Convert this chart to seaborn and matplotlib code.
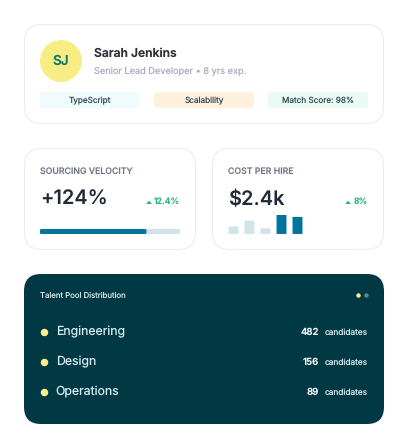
import matplotlib
matplotlib.use("Agg")
import matplotlib.pyplot as plt
from matplotlib.patches import FancyBboxPatch, Circle, Polygon
import seaborn as sns
import pandas as pd

sns.set_theme(style="white")
plt.rcParams['font.family'] = ['Inter', 'DejaVu Sans']
plt.rcParams['text.hinting'] = 'no_hinting'
plt.rcParams['text.hinting_factor'] = 1

W, H = 408, 448
PX = 0.72

# data
name = "Sarah Jenkins"
initials = "SJ"
role = "Senior Lead Developer • 8 yrs exp."
chips = ["TypeScript", "Scalability", "Match Score: 98%"]
velocity_label = "SOURCING VELOCITY"
velocity_value = "+124%"
velocity_delta = "12.4%"
progress_share = [76]
progress_total = [100]
cost_label = "COST PER HIRE"
cost_value = "$2.4k"
cost_delta = "8%"
cost_bars = [40, 70, 30, 100, 90]
cost_groups = ["a", "b", "c", "d", "e"]
pool_title = "Talent Pool Distribution"
departments = ["Engineering", "Design", "Operations"]
candidates = [482, 156, 89]

DARK = "#003844"
TEAL = "#00769A"
PALE = "#CFE3E8"
INK = "#1F2937"
GREEN = "#2DB585"
YEL = "#FBF08C"

fig = plt.figure(figsize=(W / 100, H / 100), dpi=100, facecolor="white")
bg = fig.add_axes([0, 0, 1, 1])
bg.set_xlim(0, W)
bg.set_ylim(H, 0)
bg.axis("off")


def round_box(ax, x0, y0, x1, y1, r, fc, ec="none", lw=0, z=1):
    p = FancyBboxPatch((x0 + r, y0 + r), x1 - x0 - 2 * r, y1 - y0 - 2 * r,
                       boxstyle=f"round,pad={r},rounding_size={r}",
                       fc=fc, ec=ec, lw=lw, zorder=z)
    ax.add_patch(p)
    return p


def txt(x, y, s, size, color, weight="normal", ha="left"):
    return bg.text(x, y, s, fontsize=size * PX, color=color, fontweight=weight,
                   ha=ha, va="center", zorder=5)


EDGE = "#E9EDF0"
round_box(bg, 24.5, 24.5, 383.5, 123.5, 17, "white", EDGE, 0.8)
round_box(bg, 24.5, 148.5, 195.5, 249.5, 17, "white", EDGE, 0.8)
round_box(bg, 212.5, 148.5, 383.5, 249.5, 17, "white", EDGE, 0.8)
round_box(bg, 24, 274, 384, 424, 17, DARK)

# profile
bg.add_patch(Circle((61, 61), 21, fc="#F8EC85", ec="none", zorder=2))
txt(61, 61.5, initials, 13.5, "#0F7A70", "semibold", "center")
txt(94, 53.5, name, 12.1, "#2B2F38", "semibold")
txt(94, 71.5, role, 9.2, "#A9AFBF")
chip_x = [40, 154, 268]
chip_fc = ["#F0FBFE", "#FDF0DC", "#EAFBF3"]
for x, s, fc in zip(chip_x, chips, chip_fc):
    round_box(bg, x, 92, x + 100, 108, 4, fc, z=2)
    txt(x + 50, 100.5, s, 8.2, "#3A525C", "normal", "center")

# metric cards
txt(40, 171.5, velocity_label, 8.75, "#6F7585", "medium")
txt(40, 199.5, velocity_value, 20, INK, "semibold")
txt(180, 201.5, velocity_delta, 8.6, GREEN, "semibold", "right")
bg.add_patch(Polygon([(146.2, 204), (152, 204), (149.1, 200.6)], fc=GREEN, ec="none", zorder=5))

txt(228, 171.5, cost_label, 8.75, "#6F7585", "medium")
txt(228, 199.5, cost_value, 20, INK, "semibold")
txt(367.7, 201.5, cost_delta, 8.6, GREEN, "semibold", "right")
bg.add_patch(Polygon([(345.2, 204), (351, 204), (348.1, 200.6)], fc=GREEN, ec="none", zorder=5))


def pix_axes(x0, y0, x1, y1):
    ax = fig.add_axes([x0 / W, 1 - y1 / H, (x1 - x0) / W, (y1 - y0) / H])
    ax.axis("off")
    ax.patch.set_alpha(0)
    return ax


# progress bar
pa = pix_axes(40, 229, 180, 234)
sns.barplot(x=progress_total, y=["v"], color=PALE, width=1, ax=pa, saturation=1)
sns.barplot(x=progress_share, y=["v"], color=TEAL, width=1, ax=pa, saturation=1)
pa.set_xlim(0, 100)
pa.set_ylim(0.5, -0.5)
pa.axis("off")
for b in list(pa.patches):
    bx, by, bw, bh = b.get_x(), b.get_y(), b.get_width(), b.get_height()
    col = b.get_facecolor()
    b.remove()
    pa.add_patch(FancyBboxPatch((bx, by), bw, bh, boxstyle="round,pad=0,rounding_size=1.4",
                                mutation_aspect=0.14, fc=col, ec="none"))

# cost bars
ca = pix_axes(225.5, 215, 305.5, 234)
df = pd.DataFrame({"g": cost_groups, "v": cost_bars})
sns.barplot(data=df, x="g", y="v", hue="g", dodge=False, legend=False, width=0.62,
            palette=[PALE, PALE, PALE, TEAL, TEAL], saturation=1, ax=ca)
ca.set_xlim(-0.5, 4.5)
ca.set_ylim(0, 100)
ca.axis("off")
for i, b in enumerate(list(ca.patches)):
    bx, bw, bh = b.get_x(), b.get_width(), b.get_height()
    col = b.get_facecolor()
    b.remove()
    if bh <= 0:
        continue
    ca.add_patch(FancyBboxPatch((bx, 0), bw, bh, boxstyle="round,pad=0,rounding_size=0.12",
                                mutation_aspect=5.0, fc=col, ec="none"))

# talent pool
txt(40, 295.5, pool_title, 7.8, "#CFE3E8")
bg.plot([358], [295], "o", ms=3.2, color=YEL, mew=0, zorder=5)
bg.plot([366], [295], "o", ms=3.2, color="#5F8A85", mew=0, zorder=5)
for i, (d, c) in enumerate(zip(departments, candidates)):
    y = 332 + 30 * i
    bg.plot([43.7], [y], "o", ms=5.4, color=YEL, mew=0, zorder=5)
    txt(55.7, y + 0.4, d, 12.3, "#D5E9EE")
    txt(319, y + 0.4, str(c), 9.6, "#F2F6F7", "semibold", "right")
    txt(325, y + 0.4, "candidates", 8.3, "#CFE3E8")

fig.savefig("out.png", dpi=100, facecolor="white")
